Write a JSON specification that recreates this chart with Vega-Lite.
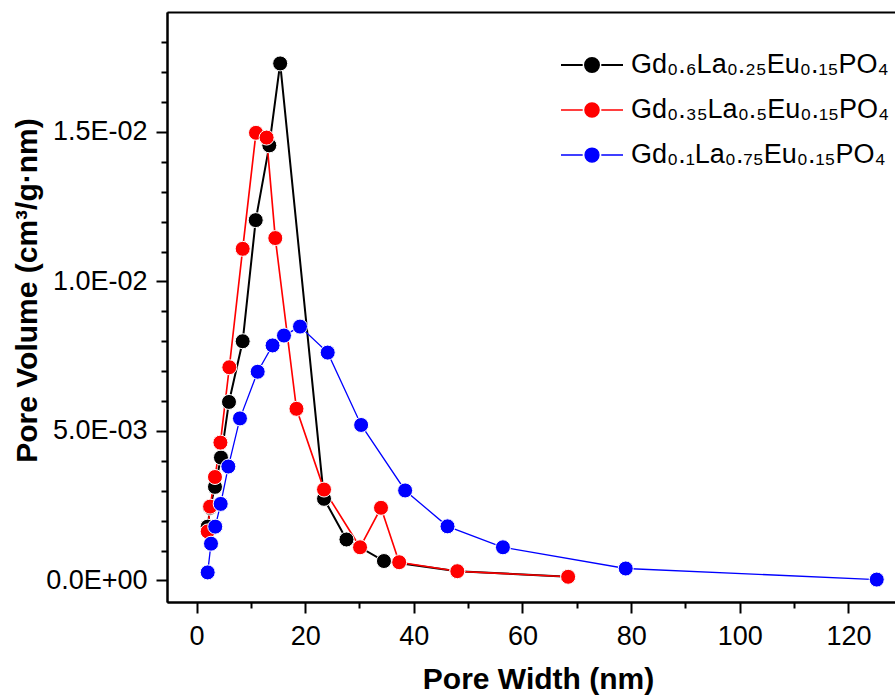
{
  "$schema": "https://vega.github.io/schema/vega-lite/v6.json",
  "width": 728,
  "height": 590,
  "autosize": {"type": "none"},
  "padding": {"left": 167, "top": 12, "right": 0, "bottom": 94},
  "background": "white",
  "config": {
    "view": {"stroke": null},
    "axis": {
      "domainColor": "#000000",
      "domainWidth": 2,
      "tickColor": "#000000",
      "tickWidth": 2,
      "labelColor": "#000000",
      "labelFont": "Liberation Sans",
      "labelFontSize": 27,
      "titleColor": "#000000",
      "titleFont": "Liberation Sans",
      "titleFontSize": 30,
      "titleFontWeight": "bold",
      "grid": false
    }
  },
  "data": {
    "values": [
      {"s": "Gd0.6La0.25Eu0.15PO4", "w": 2.06, "v": 0.0018},
      {"s": "Gd0.6La0.25Eu0.15PO4", "w": 2.5, "v": 0.00243},
      {"s": "Gd0.6La0.25Eu0.15PO4", "w": 3.4, "v": 0.00313},
      {"s": "Gd0.6La0.25Eu0.15PO4", "w": 4.5, "v": 0.00411},
      {"s": "Gd0.6La0.25Eu0.15PO4", "w": 5.98, "v": 0.00597},
      {"s": "Gd0.6La0.25Eu0.15PO4", "w": 8.5, "v": 0.0080},
      {"s": "Gd0.6La0.25Eu0.15PO4", "w": 10.9, "v": 0.01205},
      {"s": "Gd0.6La0.25Eu0.15PO4", "w": 13.4, "v": 0.01455},
      {"s": "Gd0.6La0.25Eu0.15PO4", "w": 15.4, "v": 0.01729},
      {"s": "Gd0.6La0.25Eu0.15PO4", "w": 23.47, "v": 0.00273},
      {"s": "Gd0.6La0.25Eu0.15PO4", "w": 27.6, "v": 0.00137},
      {"s": "Gd0.6La0.25Eu0.15PO4", "w": 34.5, "v": 0.00065},
      {"s": "Gd0.6La0.25Eu0.15PO4", "w": 48.0, "v": 0.00031},
      {"s": "Gd0.6La0.25Eu0.15PO4", "w": 68.4, "v": 0.000125},
      {"s": "Gd0.35La0.5Eu0.15PO4", "w": 2.06, "v": 0.00164},
      {"s": "Gd0.35La0.5Eu0.15PO4", "w": 2.5, "v": 0.00247},
      {"s": "Gd0.35La0.5Eu0.15PO4", "w": 3.4, "v": 0.00346},
      {"s": "Gd0.35La0.5Eu0.15PO4", "w": 4.4, "v": 0.00461},
      {"s": "Gd0.35La0.5Eu0.15PO4", "w": 6.04, "v": 0.00713},
      {"s": "Gd0.35La0.5Eu0.15PO4", "w": 8.5, "v": 0.01109},
      {"s": "Gd0.35La0.5Eu0.15PO4", "w": 10.95, "v": 0.01497},
      {"s": "Gd0.35La0.5Eu0.15PO4", "w": 12.9, "v": 0.01481},
      {"s": "Gd0.35La0.5Eu0.15PO4", "w": 14.5, "v": 0.01145},
      {"s": "Gd0.35La0.5Eu0.15PO4", "w": 18.4, "v": 0.00574},
      {"s": "Gd0.35La0.5Eu0.15PO4", "w": 23.47, "v": 0.00304},
      {"s": "Gd0.35La0.5Eu0.15PO4", "w": 30.1, "v": 0.00111},
      {"s": "Gd0.35La0.5Eu0.15PO4", "w": 33.96, "v": 0.00243},
      {"s": "Gd0.35La0.5Eu0.15PO4", "w": 37.3, "v": 0.00061},
      {"s": "Gd0.35La0.5Eu0.15PO4", "w": 48.0, "v": 0.00031},
      {"s": "Gd0.35La0.5Eu0.15PO4", "w": 68.4, "v": 0.000123},
      {"s": "Gd0.1La0.75Eu0.15PO4", "w": 2.06, "v": 0.00027},
      {"s": "Gd0.1La0.75Eu0.15PO4", "w": 2.67, "v": 0.00123},
      {"s": "Gd0.1La0.75Eu0.15PO4", "w": 3.45, "v": 0.0018},
      {"s": "Gd0.1La0.75Eu0.15PO4", "w": 4.45, "v": 0.00256},
      {"s": "Gd0.1La0.75Eu0.15PO4", "w": 5.86, "v": 0.00381},
      {"s": "Gd0.1La0.75Eu0.15PO4", "w": 8.0, "v": 0.00542},
      {"s": "Gd0.1La0.75Eu0.15PO4", "w": 11.26, "v": 0.00698},
      {"s": "Gd0.1La0.75Eu0.15PO4", "w": 14.0, "v": 0.00786},
      {"s": "Gd0.1La0.75Eu0.15PO4", "w": 16.1, "v": 0.00819},
      {"s": "Gd0.1La0.75Eu0.15PO4", "w": 19.05, "v": 0.00849},
      {"s": "Gd0.1La0.75Eu0.15PO4", "w": 24.15, "v": 0.00762},
      {"s": "Gd0.1La0.75Eu0.15PO4", "w": 30.3, "v": 0.0052},
      {"s": "Gd0.1La0.75Eu0.15PO4", "w": 38.4, "v": 0.00301},
      {"s": "Gd0.1La0.75Eu0.15PO4", "w": 46.2, "v": 0.00181},
      {"s": "Gd0.1La0.75Eu0.15PO4", "w": 56.4, "v": 0.00111},
      {"s": "Gd0.1La0.75Eu0.15PO4", "w": 79.0, "v": 0.0004},
      {"s": "Gd0.1La0.75Eu0.15PO4", "w": 125.2, "v": 0.00003}
    ]
  },
  "layer": [
    {
      "mark": {"type": "line"},
      "encoding": {
        "x": {
          "field": "w", "type": "quantitative",
          "scale": {"domain": [-5.43, 128.56], "nice": false, "zero": false},
          "axis": {
            "orient": "bottom",
            "values": [0, 20, 40, 60, 80, 100, 120],
            "tickSize": 11,
            "labelPadding": 10,
            "title": "Pore Width (nm)",
            "titleX": 371,
            "titleY": 86,
            "titleBaseline": "alphabetic"
          }
        },
        "y": {
          "field": "v", "type": "quantitative",
          "scale": {"domain": [-0.00072, 0.01901], "nice": false, "zero": false},
          "axis": {
            "orient": "left",
            "values": [0, 0.005, 0.01, 0.015],
            "tickSize": 11,
            "labelPadding": 9,
            "labelExpr": "datum.value == 0 ? '0.0E+00' : datum.value < 0.0075 ? '5.0E-03' : datum.value < 0.0125 ? '1.0E-02' : '1.5E-02'",
            "title": "Pore Volume (cm³/g·nm)",
            "titleAngle": 270,
            "titleX": -131,
            "titleY": 278,
            "titleAlign": "center",
            "titleBaseline": "alphabetic"
          }
        },
        "color": {
          "field": "s", "type": "nominal",
          "scale": {
            "domain": ["Gd0.6La0.25Eu0.15PO4", "Gd0.35La0.5Eu0.15PO4", "Gd0.1La0.75Eu0.15PO4"],
            "range": ["#000000", "#ff0000", "#0000ff"]
          },
          "legend": {
            "orient": "none",
            "legendX": 393,
            "legendY": 21,
            "title": null,
            "labelFont": "Liberation Sans",
            "labelFontSize": 27,
            "labelColor": "#000000",
            "labelOffset": 7,
            "labelLimit": 400,
            "rowPadding": -4,
            "symbolType": "M-1,0H-0.3M0.3,0H1M0.225,0A0.225,0.225,0,1,1,-0.225,0A0.225,0.225,0,1,1,0.225,0Z",
            "symbolSize": 3844,
            "symbolStrokeWidth": 1.5,
            "labelExpr": "datum.label == 'Gd0.6La0.25Eu0.15PO4' ? 'Gd₀.₆La₀.₂₅Eu₀.₁₅PO₄' : datum.label == 'Gd0.35La0.5Eu0.15PO4' ? 'Gd₀.₃₅La₀.₅Eu₀.₁₅PO₄' : 'Gd₀.₁La₀.₇₅Eu₀.₁₅PO₄'",
            "encode": {
              "symbols": {
                "update": {
                  "fill": {"scale": "color", "field": "value"},
                  "stroke": {"scale": "color", "field": "value"},
                  "strokeWidth": {"value": 1.5},
                  "opacity": {"value": 1}
                }
              }
            }
          }
        },
        "strokeWidth": {
          "field": "s", "type": "nominal",
          "scale": {
            "domain": ["Gd0.6La0.25Eu0.15PO4", "Gd0.35La0.5Eu0.15PO4", "Gd0.1La0.75Eu0.15PO4"],
            "range": [2, 1.3, 2]
          },
          "legend": null
        }
      }
    },
    {
      "mark": {"type": "point", "shape": "circle", "filled": true, "size": 225, "opacity": 1, "stroke": "#ffffff", "strokeWidth": 1},
      "encoding": {
        "x": {
          "field": "w", "type": "quantitative",
          "axis": {
            "orient": "bottom",
            "values": [10, 30, 50, 70, 90, 110],
            "tickSize": 6,
            "labels": false,
            "title": null
          }
        },
        "y": {
          "field": "v", "type": "quantitative",
          "axis": {
            "orient": "left",
            "values": [0.001, 0.002, 0.003, 0.004, 0.006, 0.007, 0.008, 0.009, 0.011, 0.012, 0.013, 0.014, 0.016, 0.017, 0.018],
            "tickSize": 6,
            "labels": false,
            "title": null
          }
        },
        "color": {"field": "s", "type": "nominal"}
      }
    },
    {
      "mark": {"type": "point", "opacity": 0},
      "encoding": {
        "x": {
          "field": "w", "type": "quantitative",
          "axis": {
            "orient": "top",
            "ticks": false,
            "labels": false,
            "title": null
          }
        }
      }
    }
  ],
  "resolve": {"axis": {"x": "independent", "y": "independent"}}
}
